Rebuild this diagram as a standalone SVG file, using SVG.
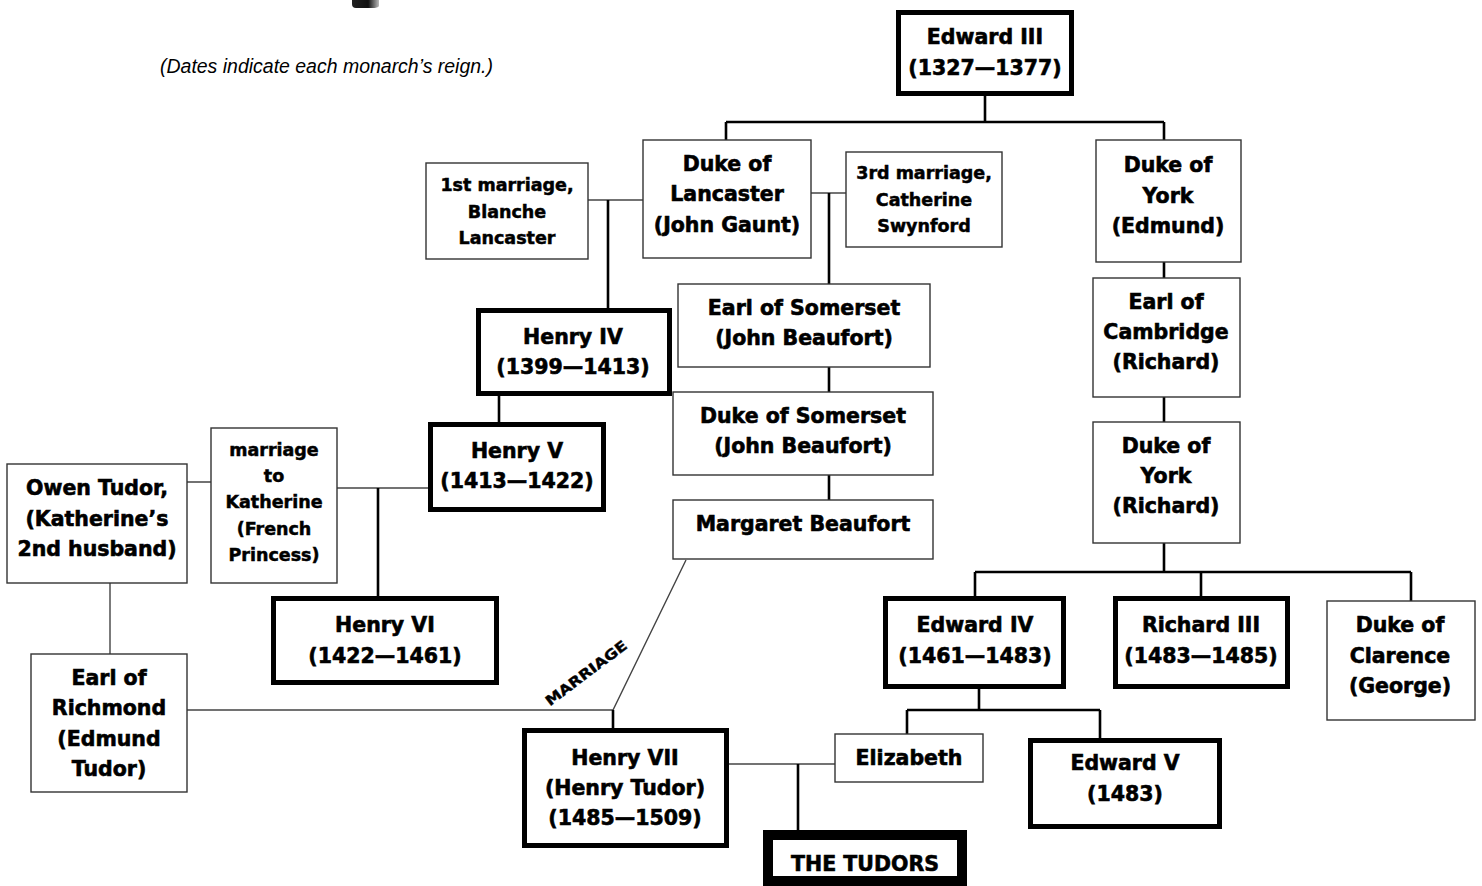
<svg xmlns="http://www.w3.org/2000/svg" width="1482" height="886" viewBox="0 0 1482 886">
<defs>
<linearGradient id="frag" x1="0" y1="0" x2="1" y2="0">
<stop offset="0" stop-color="#222"/>
<stop offset="0.6" stop-color="#111"/>
<stop offset="1" stop-color="#bbb"/>
</linearGradient>
<style>
.thin{fill:#fff;stroke:#333;stroke-width:1.4}
.thick{fill:#fff;stroke:#000;stroke-width:5}
.tud{fill:#fff;stroke:#000;stroke-width:10}
.t{font-family:"DejaVu Sans","Liberation Sans",sans-serif;font-weight:bold;font-size:20.5px;fill:#000;stroke:#000;stroke-width:0.6;text-anchor:middle}
.s{font-size:17.5px;stroke-width:0.5}
.d{stroke:#000;stroke-width:2.6;fill:none}
.m{stroke:#444;stroke-width:1.4;fill:none}
.cap{font-family:"Liberation Sans",Arial,sans-serif;font-style:italic;font-size:20px;fill:#000}
</style>
</defs>
<rect width="1482" height="886" fill="#fff"/>
<path d="M352 0 H379 V6 Q378 8 372 8 H356 Q352 8 352 4 Z" fill="url(#frag)"/>
<text class="cap" x="160" y="73" textLength="333" lengthAdjust="spacingAndGlyphs">(Dates indicate each monarch’s reign.)</text>

<g id="connectors">
<path class="d" d="M985 96 V122 M726 122 H1164 M726 122 V140 M1164 122 V140"/>
<path class="m" d="M588 200 H643"/>
<path class="d" d="M608 200 V308"/>
<path class="m" d="M811 193 H846"/>
<path class="d" d="M829 193 V284 M829 367 V392 M829 475 V500"/>
<path class="d" d="M499 396 V422"/>
<path class="m" d="M337 488 H428"/>
<path class="d" d="M378 488 V596"/>
<path class="m" d="M187 482 H211 M110 583 V654 M187 710 H613 L686 560"/>
<path class="d" d="M613 710 V728"/>
<path class="m" d="M729 764 H835"/>
<path class="d" d="M798 764 V830"/>
<path class="d" d="M1164 262 V278 M1164 397 V422 M1164 543 V572 M975 572 H1411 M975 572 V596 M1201 572 V596 M1411 572 V601"/>
<path class="d" d="M979 689 V710 M907 710 H1100 M907 710 V734 M1100 710 V738"/>
<text class="t" style="font-size:14px;stroke-width:0.4" transform="translate(586 673) rotate(-37)" x="0" y="5" textLength="98" lengthAdjust="spacingAndGlyphs">MARRIAGE</text>
</g>

<g id="edward3"><rect class="thick" x="898.5" y="12.5" width="173" height="81"/><text class="t" x="985" y="44">Edward III</text><text class="t" x="985" y="75">(1327—1377)</text></g>

<g id="lancaster"><rect class="thin" x="643" y="140" width="168" height="118"/><text class="t" x="727" y="171">Duke of</text><text class="t" x="727" y="201">Lancaster</text><text class="t" x="727" y="232">(John Gaunt)</text></g>

<g id="blanche"><rect class="thin" x="426" y="163" width="162" height="96"/><text class="t s" x="507" y="191">1st marriage,</text><text class="t s" x="507" y="218">Blanche</text><text class="t s" x="507" y="244">Lancaster</text></g>

<g id="swynford"><rect class="thin" x="846" y="152" width="156" height="95"/><text class="t s" x="924" y="179">3rd marriage,</text><text class="t s" x="924" y="206">Catherine</text><text class="t s" x="924" y="232">Swynford</text></g>

<g id="earlsomerset"><rect class="thin" x="678" y="284" width="252" height="83"/><text class="t" x="804" y="315">Earl of Somerset</text><text class="t" x="804" y="345">(John Beaufort)</text></g>

<g id="dukesomerset"><rect class="thin" x="673" y="392" width="260" height="83"/><text class="t" x="803" y="423">Duke of Somerset</text><text class="t" x="803" y="453">(John Beaufort)</text></g>

<g id="margaret"><rect class="thin" x="673" y="500" width="260" height="59"/><text class="t" x="803" y="531">Margaret Beaufort</text></g>

<g id="henry4"><rect class="thick" x="478.5" y="310.5" width="191" height="83"/><text class="t" x="573" y="344">Henry IV</text><text class="t" x="573" y="374">(1399—1413)</text></g>

<g id="henry5"><rect class="thick" x="430.5" y="424.5" width="173" height="85"/><text class="t" x="517" y="458">Henry V</text><text class="t" x="517" y="488">(1413—1422)</text></g>

<g id="katherine"><rect class="thin" x="211" y="428" width="126" height="155"/><text class="t s" x="274" y="456">marriage</text><text class="t s" x="274" y="482">to</text><text class="t s" x="274" y="508">Katherine</text><text class="t s" x="274" y="535">(French</text><text class="t s" x="274" y="561">Princess)</text></g>

<g id="owentudor"><rect class="thin" x="7" y="464" width="180" height="119"/><text class="t" x="97" y="495">Owen Tudor,</text><text class="t" x="97" y="526">(Katherine’s</text><text class="t" x="97" y="556">2nd husband)</text></g>

<g id="richmond"><rect class="thin" x="31" y="654" width="156" height="138"/><text class="t" x="109" y="685">Earl of</text><text class="t" x="109" y="715">Richmond</text><text class="t" x="109" y="746">(Edmund</text><text class="t" x="109" y="776">Tudor)</text></g>

<g id="henry6"><rect class="thick" x="273.5" y="598.5" width="223" height="84"/><text class="t" x="385" y="632">Henry VI</text><text class="t" x="385" y="663">(1422—1461)</text></g>

<g id="henry7"><rect class="thick" x="524.5" y="730.5" width="202" height="115"/><text class="t" x="625" y="765">Henry VII</text><text class="t" x="625" y="795">(Henry Tudor)</text><text class="t" x="625" y="825">(1485—1509)</text></g>

<g id="elizabeth"><rect class="thin" x="835" y="734" width="148" height="48"/><text class="t" x="909" y="765">Elizabeth</text></g>

<g id="tudors"><rect class="tud" x="768" y="835" width="194" height="46"/><text class="t" x="865" y="871">THE TUDORS</text></g>

<g id="yorkedmund"><rect class="thin" x="1096" y="140" width="145" height="122"/><text class="t" x="1168" y="172">Duke of</text><text class="t" x="1168" y="203">York</text><text class="t" x="1168" y="233">(Edmund)</text></g>

<g id="cambridge"><rect class="thin" x="1093" y="278" width="147" height="119"/><text class="t" x="1166" y="309">Earl of</text><text class="t" x="1166" y="339">Cambridge</text><text class="t" x="1166" y="369">(Richard)</text></g>

<g id="yorkrichard"><rect class="thin" x="1093" y="422" width="147" height="121"/><text class="t" x="1166" y="453">Duke of</text><text class="t" x="1166" y="483">York</text><text class="t" x="1166" y="513">(Richard)</text></g>

<g id="edward4"><rect class="thick" x="885.5" y="598.5" width="178" height="88"/><text class="t" x="975" y="632">Edward IV</text><text class="t" x="975" y="663">(1461—1483)</text></g>

<g id="richard3"><rect class="thick" x="1115.5" y="598.5" width="172" height="88"/><text class="t" x="1201" y="632">Richard III</text><text class="t" x="1201" y="663">(1483—1485)</text></g>

<g id="clarence"><rect class="thin" x="1327" y="601" width="148" height="119"/><text class="t" x="1400" y="632">Duke of</text><text class="t" x="1400" y="663">Clarence</text><text class="t" x="1400" y="693">(George)</text></g>

<g id="edward5"><rect class="thick" x="1030.5" y="740.5" width="189" height="86"/><text class="t" x="1125" y="770">Edward V</text><text class="t" x="1125" y="801">(1483)</text></g>
</svg>
